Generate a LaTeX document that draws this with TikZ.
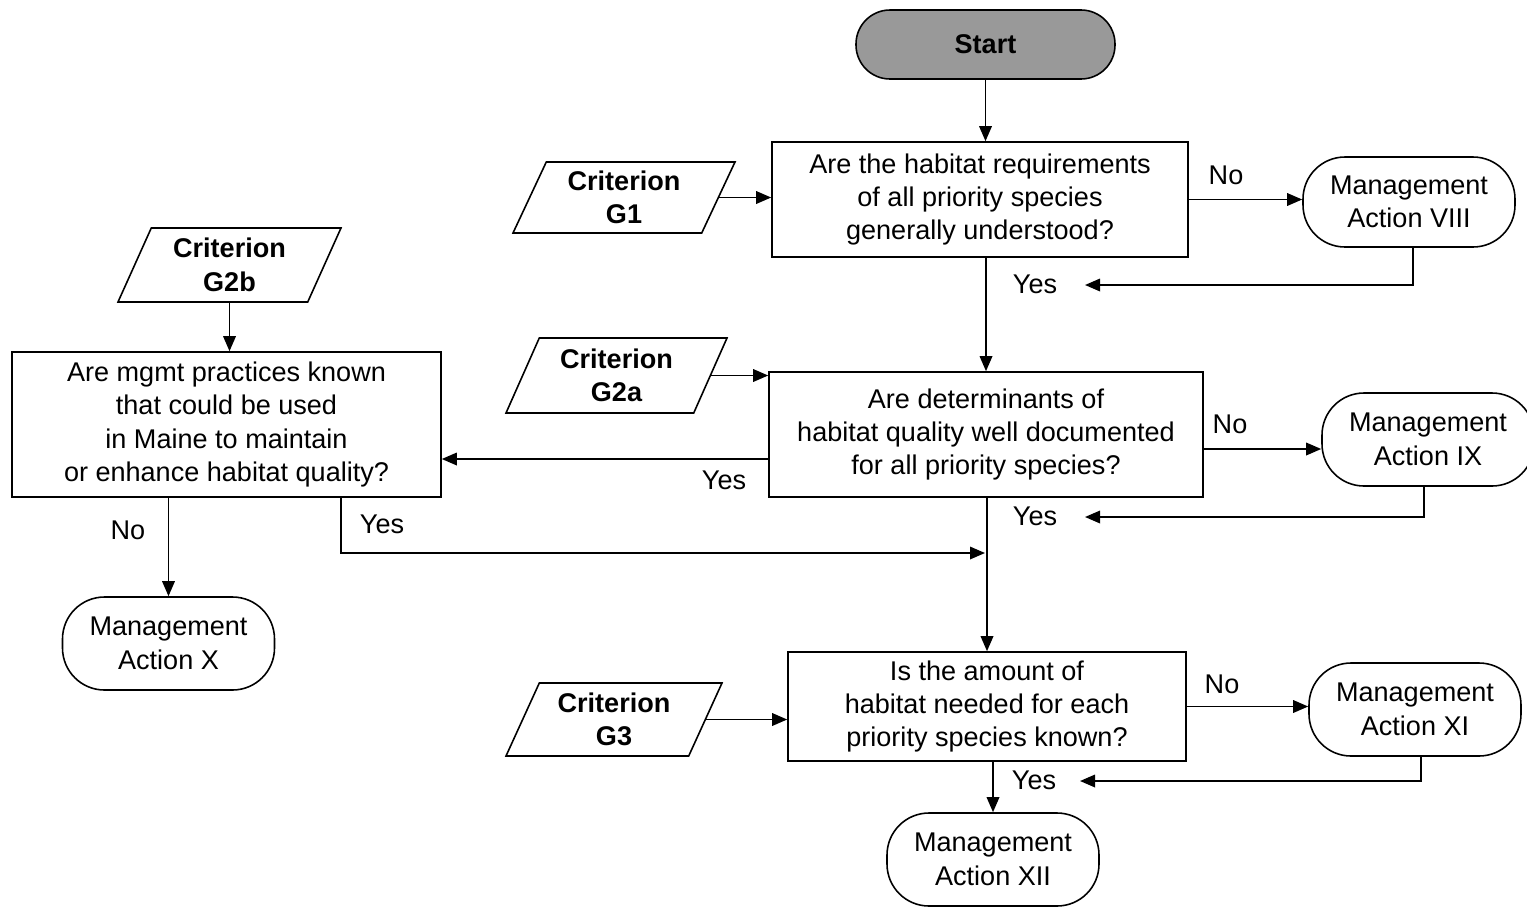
\documentclass[tikz,border=0pt]{standalone}
\usepackage{fontspec}
\setmainfont{Liberation Sans}
\usetikzlibrary{arrows.meta,shapes.geometric}

\begin{document}
\begin{tikzpicture}[
    every node/.style={font=\fontsize{7.7}{9.5}\selectfont},
    question/.style={draw, line width=0.45pt, align=center, inner sep=0pt},
    criterion/.style={draw, line width=0.45pt, align=center, font=\fontsize{7.7}{9.5}\selectfont\bfseries,
        trapezium, trapezium left angle=58, trapezium right angle=122,
        trapezium stretches body, inner sep=0pt},
    action/.style={draw, line width=0.45pt, align=center, rounded corners=0.42cm,
        minimum width=2.12cm, minimum height=0.93cm, inner sep=0pt},
    arr/.style={line width=0.5pt, -{Triangle[length=1.5mm,width=1.25mm]}},
    plain/.style={line width=0.5pt}
  ]
    \clip (0,0) rectangle (15.27,-9.06);

    %%%%% START %%%%%
    \node[draw, line width=0.45pt, fill=black!40, rounded corners=0.34cm,
          minimum width=2.59cm, minimum height=0.69cm, font=\fontsize{7.7}{9.5}\selectfont\bfseries]
          (start) at (9.855,-0.445) {Start};

    % first question
    \node[question, minimum width=4.16cm, minimum height=1.15cm] (q1) at (9.80,-1.995)
        {Are the habitat requirements\\of all priority species\\generally understood?};
    \node[criterion, minimum width=2.22cm, minimum height=0.71cm] (g1) at (6.24,-1.975) {Criterion\\G1};
    \node[action, minimum height=0.90cm] (ma8) at (14.09,-2.02) {Management\\Action VIII};

    % second question
    \node[question, minimum width=4.34cm, minimum height=1.25cm] (q2) at (9.86,-4.345)
        {Are determinants of\\habitat quality well documented\\for all priority species?};
    \node[criterion, minimum width=2.21cm, minimum height=0.75cm] (g2a) at (6.165,-3.755) {Criterion\\G2a};
    \node[action] (ma9) at (14.28,-4.395) {Management\\Action IX};

    % left branch
    \node[criterion, minimum width=2.23cm, minimum height=0.74cm] (g2b) at (2.295,-2.65) {Criterion\\G2b};
    \node[question, minimum width=4.29cm, minimum height=1.45cm] (q2b) at (2.265,-4.245)
        {Are mgmt practices known\\that could be used\\in Maine to maintain\\or enhance habitat quality?};
    \node[action] (ma10) at (1.685,-6.435) {Management\\Action X};

    % third question
    \node[question, minimum width=3.98cm, minimum height=1.09cm] (q3) at (9.87,-7.065)
        {Is the amount of\\habitat needed for each\\priority species known?};
    \node[criterion, minimum width=2.16cm, minimum height=0.73cm] (g3) at (6.14,-7.195) {Criterion\\G3};
    \node[action] (ma11) at (14.15,-7.095) {Management\\Action XI};
    \node[action] (ma12) at (9.93,-8.595) {Management\\Action XII};

    % yes / no labels
    \node (no1) at (12.26,-1.75) {No};
    \node (yes1) at (10.35,-2.84) {Yes};
    \node (no2) at (12.30,-4.24) {No};
    \node (yes2) at (7.24,-4.80) {Yes};
    \node (yes3) at (10.35,-5.16) {Yes};
    \node (yes4) at (3.82,-5.24) {Yes};
    \node (no3) at (1.28,-5.30) {No};
    \node (no4) at (12.22,-6.84) {No};
    \node (yes5) at (10.34,-7.80) {Yes};

    \coordinate (r1) at (10.85,-2.85);
    \coordinate (r2) at (10.85,-5.17);
    \coordinate (r3) at (10.80,-7.81);
    \coordinate (join) at (9.85,-5.53);

    % connectors
    \draw[arr] (start) -- (start |- q1.north);
    \draw[arr] (g1.east) -- (g1.east -| q1.west);
    \draw[arr] (q1.east) -- (q1.east -| ma8.west);
    \draw[arr] ([xshift=0.4mm]ma8.south) |- (r1);
    \draw[arr] (q2.north |- q1.south) -- (q2.north);

    \draw[arr] (g2a.east) -- (g2a.east -| q2.west);
    \draw[arr] ([yshift=-1.45mm]q2.east) -- ([yshift=-1.45mm]q2.east -| ma9.west);
    \draw[arr] ([xshift=-0.4mm]ma9.south) |- (r2);
    \draw[arr] ([yshift=-2.45mm]q2.west) -- ([yshift=-2.45mm]q2.west -| q2b.east);
    \draw[arr] (q3.north |- q2.south) -- (q3.north);

    \draw[arr] (g2b.south) -- (g2b.south |- q2b.north);
    \draw[arr] (ma10.north |- q2b.south) -- (ma10.north);
    \draw[arr] ([xshift=11.45mm]q2b.south) |- (join);

    \draw[arr] (g3.east) -- (g3.east -| q3.west);
    \draw[arr] (q3.east) -- (q3.east -| ma11.west);
    \draw[arr] ([xshift=0.6mm]ma11.south) |- (r3);
    \draw[arr] (ma12.north |- q3.south) -- (ma12.north);
    %%%%% END %%%%%
\end{tikzpicture}
\end{document}
